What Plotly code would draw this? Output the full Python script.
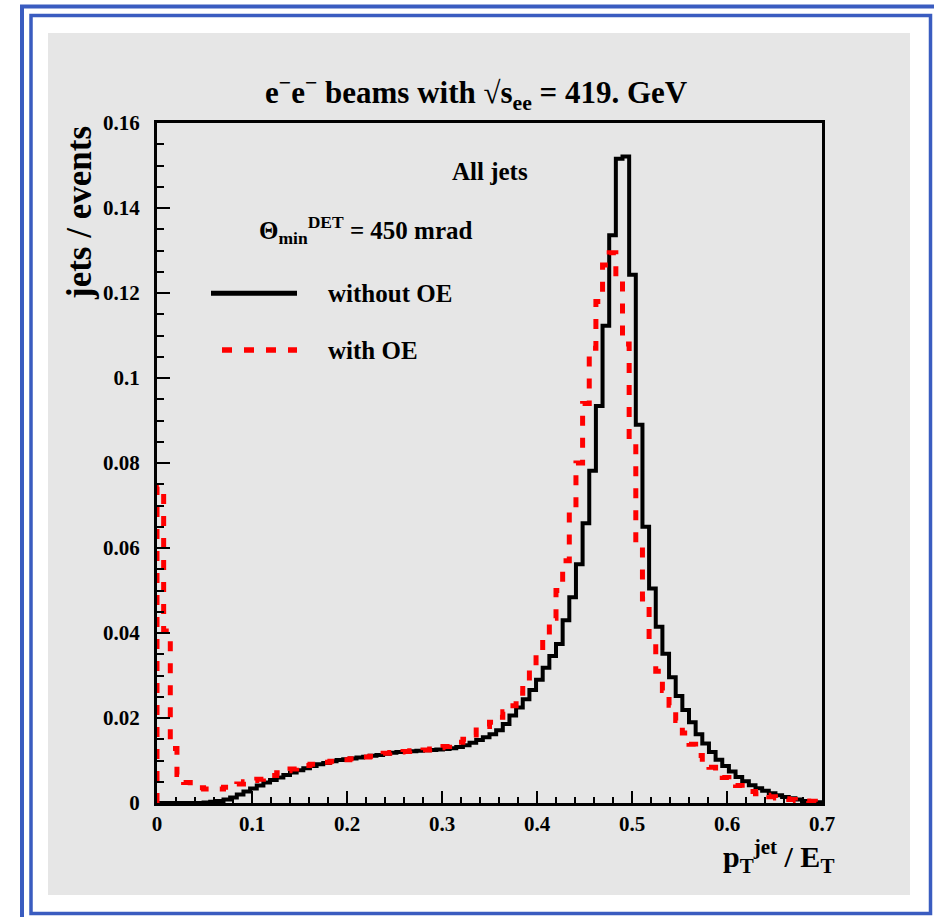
import numpy as np
import plotly.graph_objects as go

# ---------------- data ----------------
x_min, x_max, n_bins = 0.0, 0.7, 100

without_oe = [
    0, 0, 0, 0, 0, 0, 0, 0.0001, 0.0003, 0.0005,
    0.0008, 0.0013, 0.0020, 0.0027, 0.0034, 0.0041, 0.0048, 0.0054, 0.0060, 0.0066,
    0.0072, 0.0077, 0.0082, 0.0087, 0.0091, 0.0094, 0.0098, 0.0101, 0.0103, 0.0105,
    0.0107, 0.0109, 0.0111, 0.0113, 0.0116, 0.0118, 0.0120, 0.0121, 0.0122, 0.0123,
    0.0124, 0.0125, 0.0126, 0.0127, 0.0129, 0.0132, 0.0136, 0.0142, 0.0148, 0.0155,
    0.0162, 0.0171, 0.0186, 0.0206, 0.0225, 0.0244, 0.0266, 0.0290, 0.0318, 0.0346,
    0.0374, 0.0430, 0.0484, 0.0562, 0.0658, 0.0782, 0.0934, 0.1123, 0.1336, 0.1516,
    0.1521, 0.1243, 0.0890, 0.0650, 0.0505, 0.0415, 0.0351, 0.0296, 0.0252, 0.0219,
    0.0190, 0.0162, 0.0140, 0.0120, 0.0102, 0.0087, 0.0074, 0.0061, 0.0051, 0.0042,
    0.0035, 0.0029, 0.0023, 0.0018, 0.0014, 0.0011, 0.0008, 0.0005, 0.0003, 0.0002,
]

with_oe = [
    0.0744, 0.0405, 0.0128, 0.0067, 0.0048, 0.0041, 0.0036, 0.0033, 0.0032, 0.0033,
    0.0037, 0.0041, 0.0045, 0.0050, 0.0053, 0.0056, 0.0059, 0.0065, 0.0071, 0.0076,
    0.0080, 0.0085, 0.0088, 0.0091, 0.0093, 0.0096, 0.0098, 0.0100, 0.0102, 0.0104,
    0.0106, 0.0108, 0.0110, 0.0114, 0.0117, 0.0119, 0.0120, 0.0121, 0.0123, 0.0124,
    0.0125, 0.0127, 0.0130, 0.0133, 0.0137, 0.0143, 0.0150, 0.0160, 0.0172, 0.0180,
    0.0190, 0.0202, 0.0215, 0.0229, 0.0258, 0.0284, 0.0320, 0.0351, 0.0390, 0.0435,
    0.0500, 0.0570, 0.0687, 0.0800, 0.0940, 0.1070, 0.1180, 0.1266, 0.1295, 0.1230,
    0.1080, 0.0850, 0.0610, 0.0480, 0.0383, 0.0310, 0.0265, 0.0230, 0.0194, 0.0165,
    0.0138, 0.0112, 0.0096, 0.0084, 0.0071, 0.0060, 0.0050, 0.0041, 0.0033, 0.0027,
    0.0022, 0.0018, 0.0015, 0.0012, 0.0010, 0.0008, 0.0006, 0.0005, 0.0004, 0.0003,
]

x_ticks = [0, 0.1, 0.2, 0.3, 0.4, 0.5, 0.6, 0.7]
y_ticks = [0, 0.02, 0.04, 0.06, 0.08, 0.1, 0.12, 0.14, 0.16]

title_text = "e<sup>−</sup>e<sup>−</sup> beams with √s<sub>ee</sub> = 419. GeV"
y_title = "jets / events"
x_title = "p<sub>T</sub><sup>jet</sup> / E<sub>T</sub>"
label_all = "All jets"
label_theta = "Θ<sub>min</sub><sup>DET</sup> = 450 mrad"
series_names = ["without OE", "with OE"]

# ---------------- geometry / style ----------------
W, H = 934, 917
L, R, T, B = 157, 112, 123, 114
PW, PH = W - L - R, H - T - B
FONT = "Liberation Serif, Times New Roman, serif"
GRAY = "#e6e6e6"
BLUE = "#3a5cc0"
RED_DASH = "10px,12px"


def px2paper(px):
    return (px - L) / PW


def py2paper(py):
    return (H - B - py) / PH


edges = np.linspace(x_min, x_max, n_bins + 1)


def step_xy(vals):
    vals = list(vals)
    x = [edges[0]] + list(edges) + [edges[-1]]
    y = [0.0] + vals + [vals[-1], 0.0]
    return x, y


fig = go.Figure()

xb, yb = step_xy(without_oe)
fig.add_trace(go.Scatter(x=xb, y=yb, mode="lines", line_shape="hv",
                         line=dict(color="black", width=4),
                         name=series_names[0], showlegend=False, hoverinfo="skip"))
xr, yr = step_xy(with_oe)
fig.add_trace(go.Scatter(x=xr, y=yr, mode="lines", line_shape="hv",
                         line=dict(color="red", width=5, dash=RED_DASH),
                         name=series_names[1], showlegend=False, hoverinfo="skip"))

shapes = [
    dict(type="rect", xref="paper", yref="paper", layer="below",
         x0=px2paper(48), x1=px2paper(910), y0=py2paper(895), y1=py2paper(33),
         fillcolor=GRAY, line=dict(width=0)),
    dict(type="rect", xref="paper", yref="paper", layer="above",
         x0=px2paper(22), x1=px2paper(960), y0=py2paper(940), y1=py2paper(6.5),
         fillcolor="rgba(0,0,0,0)", line=dict(color=BLUE, width=4)),
    dict(type="rect", xref="paper", yref="paper", layer="above",
         x0=px2paper(31), x1=px2paper(930.5), y0=py2paper(913.5), y1=py2paper(15.5),
         fillcolor="rgba(0,0,0,0)", line=dict(color=BLUE, width=3.5)),
    dict(type="line", xref="paper", yref="paper",
         x0=px2paper(211), x1=px2paper(297), y0=py2paper(293.3), y1=py2paper(293.3),
         line=dict(color="black", width=5)),
    dict(type="line", xref="paper", yref="paper",
         x0=px2paper(222), x1=px2paper(297), y0=py2paper(350), y1=py2paper(350),
         line=dict(color="red", width=5.5, dash=RED_DASH)),
]

ann_font = dict(family=FONT, size=25, color="black", weight="bold")
annotations = [
    dict(text=title_text, x=px2paper(476.5), y=py2paper(93), xref="paper", yref="paper",
         xanchor="center", yanchor="middle", showarrow=False,
         font=dict(family=FONT, size=31, color="black", weight="bold")),
    dict(text=y_title, x=px2paper(79), y=py2paper(213), xref="paper", yref="paper",
         xanchor="center", yanchor="middle", showarrow=False, textangle=-90,
         font=dict(family=FONT, size=35, color="black", weight="bold")),
    dict(text=x_title, x=px2paper(836), y=py2paper(856), xref="paper", yref="paper",
         xanchor="right", yanchor="middle", showarrow=False,
         font=dict(family=FONT, size=30, color="black", weight="bold")),
    dict(text=label_all, x=px2paper(490), y=py2paper(172), xref="paper", yref="paper",
         xanchor="center", yanchor="middle", showarrow=False, font=ann_font),
    dict(text=label_theta, x=px2paper(257), y=py2paper(230), xref="paper", yref="paper",
         xanchor="left", yanchor="middle", showarrow=False, font=ann_font),
    dict(text=series_names[0], x=px2paper(326), y=py2paper(293), xref="paper", yref="paper",
         xanchor="left", yanchor="middle", showarrow=False, font=ann_font),
    dict(text=series_names[1], x=px2paper(326), y=py2paper(350), xref="paper", yref="paper",
         xanchor="left", yanchor="middle", showarrow=False, font=ann_font),
]

tick_font = dict(family=FONT, size=21, color="black", weight="bold")
axis_common = dict(showgrid=False, zeroline=False, showline=True, linecolor="black",
                   linewidth=3, mirror=True, ticks="inside", tickcolor="black",
                   tickwidth=2, tickfont=tick_font)

fig.update_layout(
    width=W, height=H,
    margin=dict(l=L, r=R, t=T, b=B, pad=0),
    paper_bgcolor="white", plot_bgcolor="rgba(0,0,0,0)",
    font=dict(family=FONT, color="black"),
    shapes=shapes, annotations=annotations, showlegend=False,
    xaxis=dict(range=[x_min, x_max], tickvals=x_ticks, ticklen=12,
               ticklabelstandoff=0,
               minor=dict(dtick=0.02, tick0=0, ticks="inside", ticklen=6,
                          tickwidth=1.5, tickcolor="black", showgrid=False),
               **axis_common),
    yaxis=dict(range=[0, 0.16], tickvals=y_ticks, ticklen=13,
               ticklabelstandoff=10,
               minor=dict(dtick=0.005, tick0=0, ticks="inside", ticklen=7,
                          tickwidth=1.5, tickcolor="black", showgrid=False),
               **axis_common),
)

fig.write_html("out.html")
